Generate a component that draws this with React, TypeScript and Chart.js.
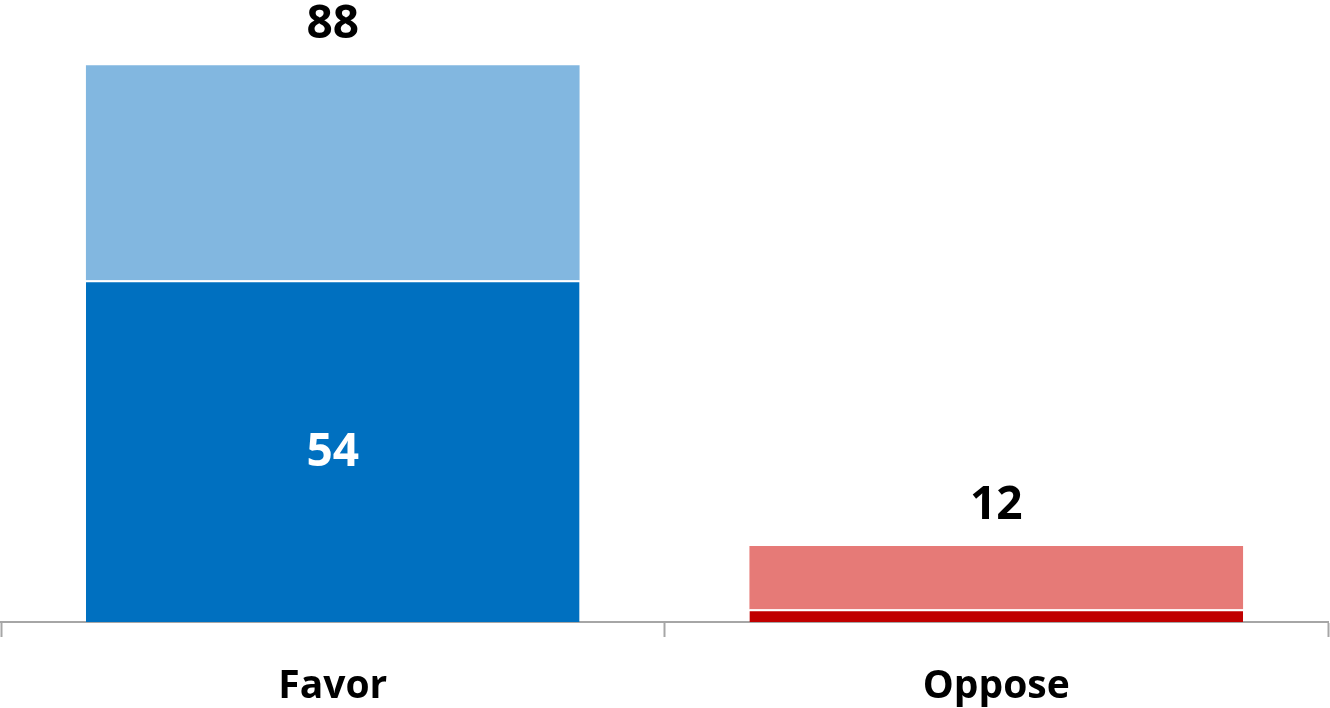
import React, { useEffect, useRef } from "react";
import { Chart, registerables } from "chart.js";

Chart.register(...registerables);

const categories = ["Favor", "Oppose"];
const strongValues = [54, 2];
const somewhatValues = [34, 10];
const strongColors = ["#0070C0", "#C00000"];
const somewhatColors = ["#82B7E0", "#E67A77"];
const innerLabels = ["54", ""];
const totalLabels = ["88", "12"];

const FONT = "'Open Sans', 'Noto Sans', sans-serif";

const labelPlugin = {
  id: "valueLabels",
  afterDatasetsDraw(chart: any) {
    const ctx = chart.ctx;
    const strongMeta = chart.getDatasetMeta(0);
    const topMeta = chart.getDatasetMeta(1);
    ctx.save();
    ctx.font = `bold 46px ${FONT}`;
    ctx.textAlign = "center";
    strongMeta.data.forEach((bar: any, i: number) => {
      const txt = innerLabels[i];
      if (!txt) return;
      ctx.fillStyle = "#FFFFFF";
      ctx.textBaseline = "middle";
      ctx.fillText(txt, bar.x, (bar.y + bar.base) / 2 + 2);
    });
    topMeta.data.forEach((bar: any, i: number) => {
      ctx.fillStyle = "#000000";
      ctx.textBaseline = "bottom";
      ctx.fillText(totalLabels[i], bar.x, bar.y - 17);
    });
    ctx.restore();
  },
};

export default function App() {
  const ref = useRef<HTMLCanvasElement | null>(null);
  useEffect(() => {
    if (!ref.current) return;
    const chart = new Chart(ref.current, {
      type: "bar",
      data: {
        labels: categories,
        datasets: [
          {
            label: "Strong",
            data: strongValues,
            backgroundColor: strongColors,
            borderColor: "#FFFFFF",
            borderWidth: { top: 2, left: 0, right: 0, bottom: 0 },
            borderSkipped: false,
          },
          {
            label: "Somewhat",
            data: somewhatValues,
            backgroundColor: somewhatColors,
            borderWidth: 0,
          },
        ],
      },
      options: {
        animation: false,
        responsive: true,
        maintainAspectRatio: false,
        layout: { padding: { left: 1, right: 2, top: 0, bottom: 0 } },
        datasets: { bar: { categoryPercentage: 1, barPercentage: 0.744 } },
        plugins: {
          legend: { display: false },
          tooltip: { enabled: false },
        },
        scales: {
          x: {
            stacked: true,
            grid: {
              display: true,
              offset: true,
              drawOnChartArea: false,
              drawTicks: true,
              tickLength: 15,
              tickWidth: 2,
              tickColor: "#A6A6A6",
            },
            border: { display: true, color: "#A6A6A6", width: 2 },
            ticks: {
              color: "#000000",
              padding: 26,
              font: { family: FONT, size: 39, weight: "bold" },
            },
            afterFit(axis: any) {
              axis.height = 86;
            },
          },
          y: {
            stacked: true,
            display: false,
            min: 0,
            max: 98.3,
          },
        },
      },
      plugins: [labelPlugin],
    } as any);
    return () => chart.destroy();
  }, []);
  return (
    <div style={{ position: "absolute", left: 0, top: 0, width: 1330, height: 708, background: "#FFFFFF" }}>
      <canvas ref={ref} />
    </div>
  );
}
